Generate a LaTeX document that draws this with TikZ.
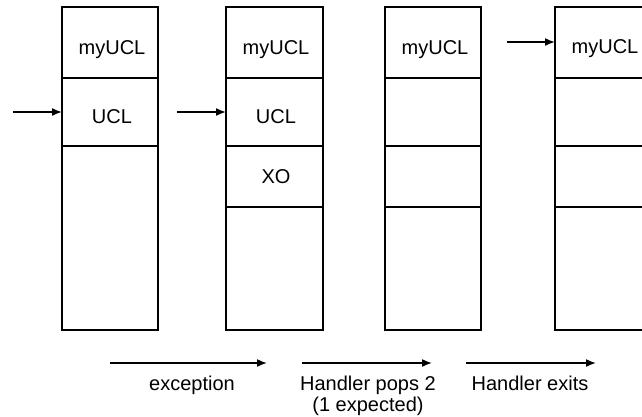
\documentclass[tikz,border=0pt]{standalone}
\usepackage{fontspec}
\setmainfont{Liberation Sans}
\usetikzlibrary{arrows.meta,positioning}
\tikzset{
	cell/.style={draw, line width=1.6pt, minimum width=96pt, anchor=north west, inner sep=0pt, outer sep=0pt},
	lbl/.style={font=\fontsize{20}{22}\selectfont, anchor=base, inner sep=0pt},
	flow/.style={line width=1.6pt, -{Latex[length=10pt,width=8pt]}},
}
\begin{document}
\begin{tikzpicture}[x=1pt,y=-1pt]
	\useasboundingbox (0,0) rectangle (642,416);
	\clip (0,0) rectangle (642,416);
	% stack before
	\node [cell, minimum height=71pt] (s1a) at (62,7) {};
	\node [cell, minimum height=68pt] (s1b) at (62,78) {};
	\node [cell, minimum height=184pt] (s1c) at (62,146) {};
	\node [lbl] at (112,54) {myUCL};
	\node [lbl] at (112,123) {UCL};
	% stack after exception
	\node [cell, minimum width=97pt, minimum height=71pt] (s2a) at (226,7) {};
	\node [cell, minimum width=97pt, minimum height=68pt] (s2b) at (226,78) {};
	\node [cell, minimum width=97pt, minimum height=61pt] (s2c) at (226,146) {};
	\node [cell, minimum width=97pt, minimum height=123pt] (s2d) at (226,207) {};
	\node [lbl] at (276,54) {myUCL};
	\node [lbl] at (276,123) {UCL};
	\node [lbl] at (276,183) {XO};
	% stack after pops
	\node [cell, minimum height=71pt] (s3a) at (385,7) {};
	\node [cell, minimum height=68pt] (s3b) at (385,78) {};
	\node [cell, minimum height=61pt] (s3c) at (385,146) {};
	\node [cell, minimum height=123pt] (s3d) at (385,207) {};
	\node [lbl] at (435,54) {myUCL};
	% stack after exit
	\node [cell, minimum height=71pt] (s4a) at (555,7) {};
	\node [cell, minimum height=68pt] (s4b) at (555,78) {};
	\node [cell, minimum height=61pt] (s4c) at (555,146) {};
	\node [cell, minimum height=123pt] (s4d) at (555,207) {};
	\node [lbl] at (605,53) {myUCL};
	% pointers
	\coordinate (p1) at (13,112);
	\coordinate (p2) at (177,112);
	\coordinate (p4) at (507,42);
	\draw [flow] (p1) -- (s1b.west);
	\draw [flow] (p2) -- (s2b.west);
	\draw [flow] (p4) -- (p4 -| s4a.west);
	% steps
	\coordinate (e1) at (110,363);
	\coordinate (e2) at (267,363);
	\coordinate (h1) at (302,363);
	\coordinate (h2) at (432,363);
	\coordinate (x1) at (466,363);
	\coordinate (x2) at (596,363);
	\draw [flow] (e1) -- (e2);
	\draw [flow] (h1) -- (h2);
	\draw [flow] (x1) -- (x2);
	\node [lbl] (exc) at (192,390) {exception};
	\node [lbl] (pops) at (368,390) {Handler pops 2};
	\node [lbl] (expd) at (368,411) {(1 expected)};
	\node [lbl] (exits) at (530,390) {Handler exits};
\end{tikzpicture}
\end{document}
